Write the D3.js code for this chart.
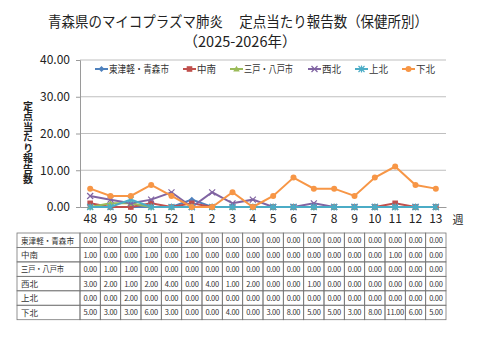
<!DOCTYPE html>
<html><head><meta charset="utf-8">
<script src="https://cdn.jsdelivr.net/npm/d3@7"></script>
<style>
body{margin:0;background:#fff;}
text{font-family:"Noto Sans CJK JP","Noto Sans",sans-serif;}
</style></head>
<body><svg id="c" width="480" height="360"></svg>
<script>
const weeks = ["48","49","50","51","52","1","2","3","4","5","6","7","8","9","10","11","12","13"];
const seriesNames = ["東津軽・青森市","中南","三戸・八戸市","西北","上北","下北"];
const vHigashi = [0,0,0,0,0,2,0,0,0,0,0,0,0,0,0,0,0,0];
const vChunan  = [1,0,0,1,0,1,0,0,0,0,0,0,0,0,0,1,0,0];
const vSannohe = [0,1,1,0,0,0,0,0,0,0,0,0,0,0,0,0,0,0];
const vSeihoku = [3,2,1,2,4,0,4,1,2,0,0,1,0,0,0,0,0,0];
const vKamikita= [0,0,2,0,0,0,0,0,0,0,0,0,0,0,0,0,0,0];
const vShimokita=[5,3,3,6,3,0,0,4,0,3,8,5,5,3,8,11,6,5];
const yTicks = [0,10,20,30,40];
const colors = ["#4F81BD","#C0504D","#9BBB59","#8064A2","#4BACC6","#F79646"];
const markers = ["diamond","square","triangle","x","star","circle"];
const allVals = [vHigashi,vChunan,vSannohe,vSeihoku,vKamikita,vShimokita];

const svg = d3.select("#c");
const L=80, R=446, T=60, B=207;
const x = d3.scaleBand().domain(weeks).range([L,R]);
const y = d3.scaleLinear().domain([0,40]).range([B,T]);

// title
svg.append("text").attr("x",238).attr("y",27).attr("text-anchor","middle").attr("font-size",14.5).attr("fill","#222")
  .attr("textLength",380).attr("lengthAdjust","spacingAndGlyphs")
  .text("青森県のマイコプラズマ肺炎　 定点当たり報告数（保健所別）");
svg.append("text").attr("x",240).attr("y",47).attr("text-anchor","middle").attr("font-size",14.5).attr("fill","#222")
  .text("（2025-2026年）");

// grid
svg.append("g").selectAll("line").data(yTicks.filter(d=>d>0)).join("line")
  .attr("x1",L).attr("x2",R).attr("y1",d=>y(d)).attr("y2",d=>y(d)).attr("stroke","#bfbfbf").attr("stroke-width",1);

// y axis
const ya = svg.append("g").attr("transform",`translate(${L},0)`)
  .call(d3.axisLeft(y).tickValues(yTicks).tickFormat(d3.format(".2f")).tickSize(4).tickPadding(6));
ya.select(".domain").attr("stroke","#9a9a9a");
ya.selectAll(".tick line").attr("stroke","#9a9a9a");
ya.selectAll("text").attr("font-size",12).attr("fill","#222").attr("font-family","Liberation Sans, Arial, sans-serif");

// x axis
const xa = svg.append("g").attr("transform",`translate(0,${B})`)
  .call(d3.axisBottom(x).tickSize(0).tickPadding(7));
xa.select(".domain").attr("stroke","#9a9a9a");
xa.selectAll("text").attr("font-size",12).attr("fill","#222").attr("font-family","Liberation Sans, Arial, sans-serif");
svg.append("text").attr("x",458).attr("y",224).attr("text-anchor","middle").attr("font-size",11).attr("fill","#222").text("週");

// y title vertical
svg.append("text").attr("x",28).attr("y",101).attr("font-size",10).attr("font-weight","bold").attr("fill","#222")
  .style("writing-mode","vertical-rl").attr("letter-spacing",0.5).text("定点当たり報告数");

function marker(g, type, color, cx, cy){
  const s=3;
  if(type==="diamond") g.append("path").attr("d",`M${cx},${cy-s}L${cx+s},${cy}L${cx},${cy+s}L${cx-s},${cy}Z`).attr("fill",color);
  else if(type==="square") g.append("rect").attr("x",cx-2.8).attr("y",cy-2.8).attr("width",5.6).attr("height",5.6).attr("fill",color);
  else if(type==="triangle") g.append("path").attr("d",`M${cx},${cy-3.3}L${cx+3.3},${cy+2.6}L${cx-3.3},${cy+2.6}Z`).attr("fill",color);
  else if(type==="x") g.append("path").attr("d",`M${cx-3},${cy-3}L${cx+3},${cy+3}M${cx-3},${cy+3}L${cx+3},${cy-3}`).attr("stroke",color).attr("stroke-width",1.2);
  else if(type==="star") g.append("path").attr("d",`M${cx-3},${cy-3}L${cx+3},${cy+3}M${cx-3},${cy+3}L${cx+3},${cy-3}M${cx},${cy-3.5}L${cx},${cy+3.5}`).attr("stroke",color).attr("stroke-width",1.2);
  else g.append("circle").attr("cx",cx).attr("cy",cy).attr("r",3).attr("fill",color);
}

const line = d3.line().x((d,i)=>x(weeks[i])+x.bandwidth()/2).y(d=>y(d));
allVals.forEach((vals,si)=>{
  const g = svg.append("g");
  g.append("path").attr("d",line(vals)).attr("fill","none").attr("stroke",colors[si]).attr("stroke-width",2);
  vals.forEach((v,i)=>marker(g,markers[si],colors[si],x(weeks[i])+x.bandwidth()/2,y(v)));
});

// legend
const legX = [95,183,230,308,355,402];
const legW = [60,19,49,19,19,19];
seriesNames.forEach((n,i)=>{
  const g=svg.append("g");
  g.append("line").attr("x1",legX[i]).attr("x2",legX[i]+13).attr("y1",69).attr("y2",69).attr("stroke",colors[i]).attr("stroke-width",2);
  marker(g,markers[i],colors[i],legX[i]+6.5,69);
  g.append("text").attr("x",legX[i]+14).attr("y",73).attr("font-size",10).attr("fill","#333")
    .attr("textLength",legW[i]).attr("lengthAdjust","spacingAndGlyphs").text(n);
});

// data table
const tT=233, rowH=14.45, tL=17;
const tblW = [53,17,43,17,17,17];
const tbl = svg.append("g");
allVals.forEach((vals,si)=>{
  const ry=tT+si*rowH;
  tbl.append("rect").attr("x",tL).attr("y",ry).attr("width",L-tL).attr("height",rowH).attr("fill","none").attr("stroke","#777").attr("stroke-width",0.8);
  tbl.append("text").attr("x",tL+4).attr("y",ry+rowH/2+3.3).attr("font-size",8.5).attr("fill","#333")
    .attr("textLength",tblW[si]).attr("lengthAdjust","spacingAndGlyphs").text(seriesNames[si]);
  vals.forEach((v,i)=>{
    tbl.append("rect").attr("x",x(weeks[i])).attr("y",ry).attr("width",x.bandwidth()).attr("height",rowH).attr("fill","none").attr("stroke","#777").attr("stroke-width",0.8);
    tbl.append("text").attr("x",x(weeks[i])+x.bandwidth()/2).attr("y",ry+rowH/2+3).attr("text-anchor","middle").attr("font-size",7.5)
      .attr("font-family","Liberation Sans, Arial, sans-serif").attr("fill","#333").attr("letter-spacing",-0.3).text(d3.format(".2f")(v));
  });
});
</script></body></html>
